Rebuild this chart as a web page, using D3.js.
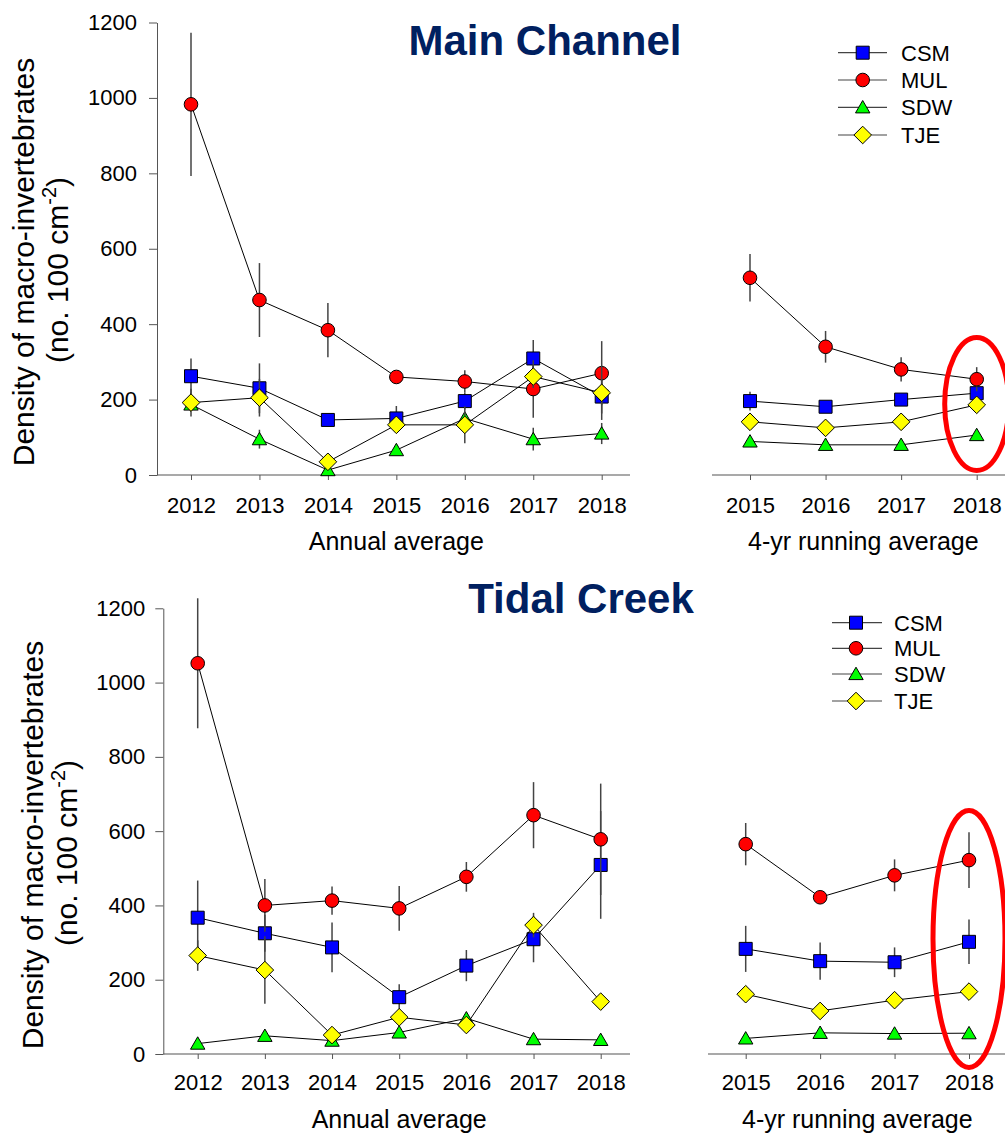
<!DOCTYPE html>
<html>
<head>
<meta charset="utf-8">
<script src="https://cdn.jsdelivr.net/npm/d3@7/dist/d3.min.js"></script>
<style>
  body { margin: 0; background: #fff; }
  svg { font-family: Arial, "Liberation Sans", sans-serif; }
</style>
</head>
<body>
<svg id="chart" width="1005" height="1134"></svg>
<script>
// ---- data ----
const sites = ['CSM', 'MUL', 'SDW', 'TJE']
const annualYears = [2012, 2013, 2014, 2015, 2016, 2017, 2018]
const runningYears = [2015, 2016, 2017, 2018]
const yTicks = [0, 200, 400, 600, 800, 1000, 1200]

// Main Channel - annual average (mean, SE)
const mcAnnCSM = [262, 230, 146, 150, 196, 309, 208]
const mcAnnCSMse = [47, 66, 10, 33, 22, 49, 45]
const mcAnnMUL = [983, 464, 384, 260, 248, 228, 270]
const mcAnnMULse = [190, 98, 72, 10, 30, 76, 85]
const mcAnnSDW = [187, 95, 13, 66, 150, 95, 110]
const mcAnnSDWse = [15, 25, 8, 8, 15, 30, 28]
const mcAnnTJE = [192, 205, 35, 133, 133, 261, 218]
const mcAnnTJEse = [37, 50, 10, 10, 49, 30, 72]

// Main Channel - 4-yr running average
const mcRunCSM = [196, 181, 200, 217]
const mcRunCSMse = [25, 8, 15, 12]
const mcRunMUL = [523, 340, 280, 254]
const mcRunMULse = [63, 42, 32, 32]
const mcRunSDW = [89, 80, 80, 106]
const mcRunSDWse = [5, 5, 5, 5]
const mcRunTJE = [141, 125, 141, 186]
const mcRunTJEse = [5, 5, 5, 10]

// Tidal Creek - annual average
const tcAnnCSM = [367, 325, 287, 153, 238, 309, 509]
const tcAnnCSMse = [100, 50, 67, 35, 42, 62, 145]
const tcAnnMUL = [1052, 400, 413, 392, 477, 643, 578]
const tcAnnMULse = [175, 71, 38, 60, 40, 89, 150]
const tcAnnSDW = [28, 49, 36, 58, 96, 40, 38]
const tcAnnSDWse = [3, 5, 5, 5, 8, 5, 5]
const tcAnnTJE = [265, 226, 51, 99, 78, 347, 141]
const tcAnnTJEse = [41, 91, 8, 8, 8, 33, 15]

// Tidal Creek - 4-yr running average
const tcRunCSM = [283, 250, 247, 302]
const tcRunCSMse = [62, 50, 40, 60]
const tcRunMUL = [565, 422, 481, 522]
const tcRunMULse = [57, 15, 43, 75]
const tcRunSDW = [42, 57, 55, 56]
const tcRunSDWse = [3, 3, 3, 3]
const tcRunTJE = [161, 116, 145, 168]
const tcRunTJEse = [5, 5, 5, 5]

// ---- styles ----
const siteFill = {CSM: '#0000ff', MUL: '#ff0000', SDW: '#00ff00', TJE: '#ffff00'}
const shapes = {
	CSM: 'M-6.5,-6.5H6.5V6.5H-6.5Z',
	MUL: d3.symbol(d3.symbolCircle, Math.PI * 6.8 * 6.8)(),
	SDW: 'M0,-6.8L7.2,5.6H-7.2Z',
	TJE: 'M0,-8.8L8.8,0L0,8.8L-8.8,0Z'
}
const axisColor = '#555'
const navy = '#002060'

const svg = d3.select('#chart')

const panels = [
	{
		title: 'Main Channel', titleX: 545, titleY: 55,
		y0: 475, y1: 22.5, yAxisX: 157, yPad: 12,
		labelX: [34, 68], labelY: 262,
		left: {x0: 191, x1: 601.7, lineX: [157, 630], data: {CSM: [mcAnnCSM, mcAnnCSMse], MUL: [mcAnnMUL, mcAnnMULse], SDW: [mcAnnSDW, mcAnnSDWse], TJE: [mcAnnTJE, mcAnnTJEse]}},
		right: {x0: 750, x1: 976.7, lineX: [712, 1005], data: {CSM: [mcRunCSM, mcRunCSMse], MUL: [mcRunMUL, mcRunMULse], SDW: [mcRunSDW, mcRunSDWse], TJE: [mcRunTJE, mcRunTJEse]}},
		tickPad: 17, xTitleY: 550,
		legend: {x1: 838, x2: 887, mx: 862.7, tx: 901, ys: [52.7, 80, 107.3, 135]},
		ellipse: {ry: 66.5, rx: 32, cy: 404}
	},
	{
		title: 'Tidal Creek', titleX: 581, titleY: 613,
		y0: 1054, y1: 608.3, yAxisX: 163.3, yPad: 10,
		labelX: [43, 77], labelY: 845,
		left: {x0: 197.7, x1: 600.7, lineX: [163.3, 630], data: {CSM: [tcAnnCSM, tcAnnCSMse], MUL: [tcAnnMUL, tcAnnMULse], SDW: [tcAnnSDW, tcAnnSDWse], TJE: [tcAnnTJE, tcAnnTJEse]}},
		right: {x0: 745.7, x1: 969, lineX: [708, 1005], data: {CSM: [tcRunCSM, tcRunCSMse], MUL: [tcRunMUL, tcRunMULse], SDW: [tcRunSDW, tcRunSDWse], TJE: [tcRunTJE, tcRunTJEse]}},
		tickPad: 15, xTitleY: 1128,
		legend: {x1: 832, x2: 882, mx: 856, tx: 894, ys: [622.7, 648.3, 674, 701]},
		ellipse: {ry: 128.5, rx: 36, cy: 939}
	}
]

panels.forEach(p => {
	const g = svg.append('g')
	const y = d3.scaleLinear().domain([0, 1200]).range([p.y0, p.y1])

	// title
	g.append('text')
		.attr('x', p.titleX).attr('y', p.titleY)
		.attr('text-anchor', 'middle')
		.style('font-size', '42px').style('font-weight', 'bold')
		.style('fill', navy)
		.text(p.title)

	// y axis
	const ya = g.append('g')
		.attr('transform', 'translate(' + p.yAxisX + ',0)')
		.call(d3.axisLeft(y).tickValues(yTicks).tickFormat(d3.format('d'))
			.tickSize(8).tickPadding(p.yPad).tickSizeOuter(0))
	ya.select('.domain').attr('stroke', axisColor)
	ya.selectAll('.tick line').attr('stroke', axisColor)
	ya.selectAll('text').style('font-size', '22px').style('fill', '#000')

	// y label
	g.append('text')
		.attr('transform', 'translate(' + p.labelX[0] + ',' + p.labelY + ') rotate(-90)')
		.attr('text-anchor', 'middle')
		.style('font-size', '30px')
		.text('Density of macro-invertebrates')
	const yl2 = g.append('text')
		.attr('transform', 'translate(' + p.labelX[1] + ',' + (p.labelY + 8) + ') rotate(-90)')
		.attr('text-anchor', 'middle')
		.style('font-size', '30px')
	yl2.append('tspan').text('(no. 100 cm')
	yl2.append('tspan').attr('dy', -12).style('font-size', '20px').text('-2')
	yl2.append('tspan').attr('dy', 12).text(')')

	// two sub-plots
	const subs = [
		{cfg: p.left, years: annualYears, title: 'Annual average'},
		{cfg: p.right, years: runningYears, title: '4-yr running average'}
	]
	subs.forEach(s => {
		const c = s.cfg
		const x = d3.scaleLinear()
			.domain([s.years[0], s.years[s.years.length - 1]])
			.range([c.x0, c.x1])

		const xa = g.append('g')
			.attr('transform', 'translate(0,' + p.y0 + ')')
			.call(d3.axisBottom(x).tickValues(s.years).tickFormat(d3.format('d'))
				.tickSize(5).tickPadding(p.tickPad).tickSizeOuter(0))
		xa.select('.domain').remove()
		xa.selectAll('.tick line').attr('stroke', axisColor)
		xa.selectAll('text').style('font-size', '22px').style('fill', '#000')
		xa.append('line')
			.attr('x1', c.lineX[0]).attr('x2', c.lineX[1])
			.attr('stroke', axisColor).attr('stroke-width', 1.2)

		g.append('text')
			.attr('x', (x(s.years[0]) + x(s.years[s.years.length - 1])) / 2)
			.attr('y', p.xTitleY)
			.attr('text-anchor', 'middle')
			.style('font-size', '25px')
			.text(s.title)

		sites.forEach(site => {
			const mean = c.data[site][0]
			const se = c.data[site][1]
			const pts = s.years.map((yr, i) => ({yr: yr, v: mean[i], se: se[i]}))
			const sg = g.append('g')

			sg.selectAll('line.err')
				.data(pts)
				.enter().append('line')
				.attr('class', 'err')
				.attr('x1', d => x(d.yr)).attr('x2', d => x(d.yr))
				.attr('y1', d => y(d.v - d.se)).attr('y2', d => y(d.v + d.se))
				.attr('stroke', '#444').attr('stroke-width', 1.5)

			sg.append('path')
				.datum(pts)
				.attr('d', d3.line().x(d => x(d.yr)).y(d => y(d.v)))
				.attr('fill', 'none').attr('stroke', '#000').attr('stroke-width', 1)

			sg.selectAll('path.mk')
				.data(pts)
				.enter().append('path')
				.attr('class', 'mk')
				.attr('transform', d => 'translate(' + x(d.yr) + ',' + y(d.v) + ')')
				.attr('d', shapes[site])
				.attr('fill', siteFill[site])
				.attr('stroke', '#000').attr('stroke-width', 1)
		})

		if (s.years === runningYears) {
			g.append('ellipse')
				.attr('cx', x(2018)).attr('cy', p.ellipse.cy)
				.attr('rx', p.ellipse.rx).attr('ry', p.ellipse.ry)
				.attr('fill', 'none').attr('stroke', '#ff0000').attr('stroke-width', 5)
		}
	})

	// legend
	const lg = g.append('g')
	sites.forEach((site, i) => {
		const ly = p.legend.ys[i]
		lg.append('line')
			.attr('x1', p.legend.x1).attr('x2', p.legend.x2)
			.attr('y1', ly).attr('y2', ly)
			.attr('stroke', '#444').attr('stroke-width', 1.2)
		lg.append('path')
			.attr('transform', 'translate(' + p.legend.mx + ',' + ly + ')')
			.attr('d', shapes[site])
			.attr('fill', siteFill[site]).attr('stroke', '#000')
		lg.append('text')
			.attr('x', p.legend.tx).attr('y', ly).attr('dy', '0.36em')
			.style('font-size', '22px')
			.text(site)
	})
})
</script>
</body>
</html>
